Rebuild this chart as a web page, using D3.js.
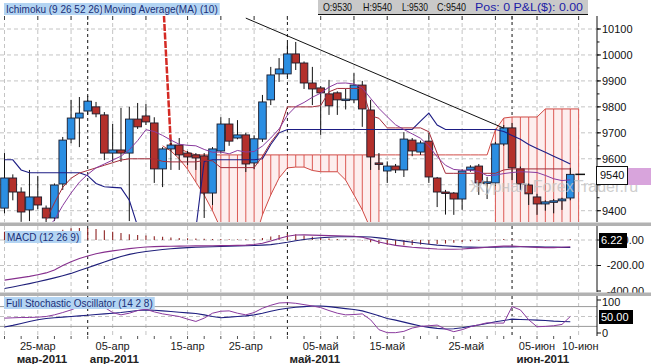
<!DOCTYPE html>
<html>
<head>
<meta charset="utf-8">
<script src="https://cdn.jsdelivr.net/npm/d3@7"></script>
<style>
  body { margin: 0; background: #fff; }
  svg { display: block; font-family: Arial, "Liberation Sans", sans-serif; }
</style>
</head>
<body>
<svg id="chart" width="651" height="364"></svg>
<script>
// ---- data (one candle per index) ----
const opens  = [9410,9526,9472,9403,9453,9410,9372,9503,9676,9757,9784,9800,9769,9622,9634,9622,9753,9765,9738,9561,9638,9653,9622,9615,9611,9468,9630,9734,9680,9692,9584,9676,9827,9927,9927,10004,9969,9892,9873,9850,9854,9827,9827,9884,9788,9584,9553,9572,9557,9672,9626,9668,9526,9472,9468,9445,9557,9572,9507,9507,9657,9719,9561,9499,9453,9426,9434,9438,9449];
const highs  = [9622,9540,9490,9557,9534,9420,9505,9684,9827,9838,9842,9819,9780,9734,9796,9800,9815,9811,9760,9645,9672,9680,9630,9622,9622,9645,9760,9757,9749,9700,9690,9846,9954,9988,10046,10050,9975,9954,9880,9904,9860,9870,9930,9900,9827,9622,9590,9580,9703,9680,9670,9700,9530,9480,9472,9560,9575,9580,9530,9665,9730,9738,9570,9505,9465,9440,9445,9450,9565];
const lows   = [9390,9440,9357,9360,9405,9355,9360,9480,9660,9645,9770,9760,9595,9588,9588,9360,9715,9730,9507,9491,9557,9557,9576,9557,9372,9422,9620,9650,9675,9549,9560,9665,9807,9896,9915,9942,9869,9807,9692,9769,9769,9790,9815,9723,9557,9557,9507,9545,9530,9610,9615,9507,9414,9385,9384,9403,9550,9461,9445,9495,9650,9518,9480,9422,9384,9400,9390,9403,9440];
const closes = [9526,9472,9395,9453,9422,9372,9499,9672,9757,9776,9822,9773,9622,9634,9622,9753,9723,9742,9561,9638,9653,9615,9607,9603,9468,9638,9734,9668,9692,9580,9677,9819,9923,9946,10004,9969,9892,9869,9854,9804,9827,9830,9884,9792,9607,9580,9572,9557,9676,9630,9661,9530,9472,9468,9445,9553,9568,9507,9511,9657,9719,9565,9503,9465,9426,9434,9438,9445,9540];

// Ichimoku (9 26 52 26) and MA(10)
const tenkan = [null,null,null,null,null,9364,9430,9490,9525,9545,9555,9565,9575,9585,9595,9600,9600,9600,9600,9590,9588,9588,9588,9588,9594,9592,9566,9566,9566,9566,9566,9609,9663,9705,9800,9800,9800,9800,9805,9858,9871,9871,9871,9871,9766,9756,9719,9719,9719,9719,9719,9704,9621,9544,9544,9544,9544,9544,9544,9544,9557,9561,9561,9561,9561,9561,9561,9561,9561];
const kijun  = [9596,9596,9557,9546,9546,9546,9546,9546,9546,9546,9535,9505,9492,9490,9488,9440,9340,9250,9250,9250,9250,9250,9250,9330,9590,9596,9596,9596,9596,9596,9596,9600,9655,9700,9713,9713,9713,9713,9713,9713,9713,9713,9713,9713,9713,9713,9713,9713,9713,9713,9745,9776,9730,9713,9713,9713,9713,9713,9713,9713,9705,9690,9675,9655,9640,9625,9610,9595,9580];
const ma10   = [null,null,null,null,null,9330,9364,9420,9468,9510,9540,9565,9580,9595,9610,9635,9670,9712,9705,9690,9672,9656,9652,9650,9636,9625,9626,9619,9632,9626,9628,9649,9680,9715,9768,9801,9817,9837,9853,9876,9891,9892,9888,9873,9833,9794,9762,9731,9713,9696,9679,9649,9608,9575,9559,9556,9556,9551,9535,9537,9543,9547,9550,9549,9547,9536,9523,9516,9519];
const spanA  = [null,null,null,null,null,null,null,null,null,null,null,null,null,null,null,null,null,null,null,
  9650,9630,9600,9560,9510,9460,9400,9330,9250,9200,9200,9280,9384,9461,9526,9565,9568,9568,9555,9550,9550,9550,9518,9461,9403,9330,
  9250,null,null,null,null,null,null,null,null,null,null,null,null,null,
  9200,9200,9200,9200,9200,9200,9200,9200,9200,9200,9200];
const spanB  = [null,null,null,null,null,null,null,null,null,null,null,null,null,null,null,null,null,null,null,null,
  9650,9640,9625,9615,9615,9615,9615,9615,9615,9615,9615,9615,9615,9615,9615,9615,9615,9615,9615,9615,9615,9615,9615,9615,9615,9615,9615,9615,9615,9615,9615,9615,9615,9615,9615,9615,9615,9615,9615,
  9711,9757,9761,9761,9761,9761,9792,9792,9792,9792,9792];
const spanBEntry = [[19, 10250], [20, 9650]];
const trendLine  = [[29, 10142], [60, 9718]];

// MACD (12 26 9)
const macd     = [-315,-305,-295,-285,-272,-258,-235,-200,-170,-145,-125,-108,-95,-85,-76,-68,-61,-55,-52,-50,-49,-48,-47,-46,-46,-45,-44,-43,-42,-40,-35,-25,-8,12,30,39,40,38,36,34,33,31,30,22,5,-15,-30,-42,-50,-57,-62,-67,-71,-73,-72,-70,-66,-62,-57,-52,-48,-48,-51,-55,-58,-60,-60,-57,-53];
const signal   = [-380,-368,-355,-342,-328,-313,-297,-280,-262,-240,-218,-195,-172,-150,-130,-113,-100,-90,-82,-75,-69,-64,-60,-57,-55,-53,-51,-49,-47,-45,-43,-40,-36,-28,-18,-6,4,12,18,22,25,26,27,26,23,17,9,0,-9,-18,-26,-33,-40,-45,-50,-54,-56,-57,-57,-56,-55,-54,-53,-53,-54,-55,-56,-58,-59];
const macdHist = [65,63,60,57,56,55,62,80,92,95,93,87,77,65,54,45,39,35,30,25,20,16,13,11,9,8,7,6,5,5,8,15,28,40,48,45,36,26,18,12,8,5,3,-4,-18,-32,-39,-42,-41,-39,-36,-34,-31,-28,-22,-16,-10,-5,0,4,7,6,2,-2,-4,-5,-4,1,6.22];

// Full Stochastic (14 2 8)
const stochK = [45,46,47,47,48,50,55,62,70,80,88,90,78,62,55,60,68,72,64,58,54,50,42,35,45,60,66,67,60,55,62,75,84,91,92,90,86,82,77,68,60,55,56,58,40,10,1,1,5,15,20,22,24,12,4,10,19,25,31,30,30,80,70,40,19,20,22,26,50];
const stochD = [18,23,29,35,40,44,46,48,50,52,54,56,58,60,62,65,68,70,69,67,65,63,61,59,55,50,46,48,50,52,55,60,66,71,75,78,80,82,82,80,77,74,71,67,60,52,44,39,33,27,21,17,14,12,13,16,20,24,29,34,38,42,41,40,39,38,36,35,34];

// axes / labels
const priceGrid   = [9400,9500,9600,9700,9800,9900,10000,10100];
const priceLabels = [9400,9600,9700,9800,9900,10000,10100];
const gridIdx  = [0,4,8,13,17,22,26,30,38,42,46,51,55,59,64,69];
const monthIdx = [10,34,61];
const dayTicks = [["25-мар",4],["05-апр",13],["15-апр",22],["25-апр",29],["05-май",38],["15-май",46],["25-май",55.5],["05-июн",64],["10-июн",69.2]];
const monthTicks = [["мар-2011",4.5],["апр-2011",13.2],["май-2011",37.3],["июн-2011",64.7]];
const headerBar = ["O:9530", "H:9540", "L:9530", "C:9540"];

// ---- layout ----
const svg = d3.select("#chart");
const plotRight = 597;
const mainTop = 16, mainBottom = 222;
const macdTop = 226, macdBottom = 292;
const stochTop = 296, stochBottom = 336;

const xScale = d3.scaleLinear().domain([0, 68]).range([4.5, 570.3]);
const yPrice = d3.scaleLinear().domain([9400, 10100]).range([210.7, 29]);
const yMacd  = d3.scaleLinear().domain([-400, 0]).range([291, 240]);
const yStoch = d3.scaleLinear().domain([0, 100]).range([333, 300]);

const defs = svg.append("defs");
function addClip(id, top, bottom) {
    defs.append("clipPath").attr("id", id).append("rect")
        .attr("x", 0).attr("y", top).attr("width", plotRight).attr("height", bottom - top);
}
addClip("clip-main", mainTop, mainBottom);
addClip("clip-macd", macdTop, macdBottom);
addClip("clip-stoch", stochTop, stochBottom);

const gMain  = svg.append("g").attr("clip-path", "url(#clip-main)");
const gMacd  = svg.append("g").attr("clip-path", "url(#clip-macd)");
const gStoch = svg.append("g").attr("clip-path", "url(#clip-stoch)");

// vertical grid in every panel
[[gMain, mainTop, mainBottom], [gMacd, macdTop, macdBottom], [gStoch, stochTop, stochBottom]].forEach(([g, t, b]) => {
    g.selectAll(".vgrid").data(gridIdx).enter().append("line")
        .attr("x1", d => xScale(d)).attr("x2", d => xScale(d))
        .attr("y1", t).attr("y2", b)
        .attr("stroke", "#c4c4c4").attr("stroke-dasharray", "4,3");
    g.selectAll(".mline").data(monthIdx).enter().append("line")
        .attr("x1", d => xScale(d)).attr("x2", d => xScale(d))
        .attr("y1", t).attr("y2", b)
        .attr("stroke", "#111").attr("stroke-dasharray", "3,3");
});

// horizontal grid, main
gMain.selectAll(".hgrid").data(priceGrid).enter().append("line")
    .attr("x1", 0).attr("x2", plotRight)
    .attr("y1", d => yPrice(d)).attr("y2", d => yPrice(d))
    .attr("stroke", "#c4c4c4").attr("stroke-dasharray", "4,3");

// ---- cloud ----
const idx70 = d3.range(spanA.length);
const cloudIdx = idx70.filter(i => spanA[i] != null && spanB[i] != null);
gMain.append("path")
    .datum(idx70)
    .attr("fill", "#fdeeee")
    .attr("d", d3.area()
        .defined(i => spanA[i] != null && spanB[i] != null)
        .x(i => xScale(i)).y0(i => yPrice(spanA[i])).y1(i => yPrice(spanB[i])));
gMain.selectAll(".hatch").data(cloudIdx).enter().append("line")
    .attr("x1", i => xScale(i)).attr("x2", i => xScale(i))
    .attr("y1", i => yPrice(spanA[i])).attr("y2", i => yPrice(spanB[i]))
    .attr("stroke", "#dc5a55").attr("stroke-width", 1);

const seriesLine = (arr, yS) => d3.line()
    .defined(i => arr[i] != null)
    .x(i => xScale(i)).y(i => yS(arr[i]));

gMain.append("path").datum(idx70).attr("fill", "none")
    .attr("stroke", "#d04a45").attr("stroke-width", 1)
    .attr("d", seriesLine(spanA, yPrice));
gMain.append("path").datum(idx70).attr("fill", "none")
    .attr("stroke", "#d04a45").attr("stroke-width", 1)
    .attr("d", seriesLine(spanB, yPrice));
gMain.append("path").datum(spanBEntry).attr("fill", "none")
    .attr("stroke", "#d42a24").attr("stroke-width", 2.5).attr("stroke-dasharray", "7,1.5")
    .attr("d", d3.line().x(d => xScale(d[0])).y(d => yPrice(d[1])));

// ---- candles ----
const candleIdx = d3.range(opens.length);
gMain.selectAll(".wick").data(candleIdx).enter().append("line")
    .attr("x1", i => xScale(i)).attr("x2", i => xScale(i))
    .attr("y1", i => yPrice(highs[i])).attr("y2", i => yPrice(lows[i]))
    .attr("stroke", "#111").attr("stroke-width", 1);
gMain.selectAll(".body").data(candleIdx).enter().append("rect")
    .attr("x", i => xScale(i) - 3.8)
    .attr("width", 7.6)
    .attr("y", i => yPrice(Math.max(opens[i], closes[i])))
    .attr("height", i => Math.max(1.5, Math.abs(yPrice(opens[i]) - yPrice(closes[i]))))
    .attr("fill", i => closes[i] >= opens[i] ? "#2b8ee2" : "#b3302b")
    .attr("stroke", "#1b1b2b").attr("stroke-width", 0.9);

// ---- indicator lines ----
gMain.append("path").datum(candleIdx).attr("fill", "none")
    .attr("stroke", "#1d1d84").attr("stroke-width", 1.1)
    .attr("d", seriesLine(kijun, yPrice));
gMain.append("path").datum(candleIdx).attr("fill", "none")
    .attr("stroke", "#a32c3a").attr("stroke-width", 1)
    .attr("d", seriesLine(tenkan, yPrice));
gMain.append("path").datum(candleIdx).attr("fill", "none")
    .attr("stroke", "#8a3a9e").attr("stroke-width", 1)
    .attr("d", seriesLine(ma10, yPrice));

// trend line
gMain.append("line")
    .attr("x1", xScale(trendLine[0][0])).attr("y1", yPrice(trendLine[0][1]))
    .attr("x2", xScale(trendLine[1][0])).attr("y2", yPrice(trendLine[1][1]))
    .attr("stroke", "#111").attr("stroke-width", 1);

// last close tick
const lastI = closes.length - 1;
svg.append("line")
    .attr("x1", xScale(lastI) + 5).attr("x2", 585)
    .attr("y1", yPrice(closes[lastI])).attr("y2", yPrice(closes[lastI]))
    .attr("stroke", "#111").attr("stroke-width", 1.5);

// ---- MACD panel ----
gMacd.selectAll(".mh").data([0, -200]).enter().append("line")
    .attr("x1", 0).attr("x2", plotRight)
    .attr("y1", d => yMacd(d)).attr("y2", d => yMacd(d))
    .attr("stroke", "#c4c4c4").attr("stroke-dasharray", "4,3");
gMacd.selectAll(".hist").data(candleIdx).enter().append("line")
    .attr("x1", i => xScale(i)).attr("x2", i => xScale(i))
    .attr("y1", yMacd(0)).attr("y2", i => yMacd(macdHist[i]))
    .attr("stroke", "#8e2424").attr("stroke-width", 1.1);
gMacd.append("path").datum(candleIdx).attr("fill", "none")
    .attr("stroke", "#20207a").attr("stroke-width", 1.1)
    .attr("d", seriesLine(signal, yMacd));
gMacd.append("path").datum(candleIdx).attr("fill", "none")
    .attr("stroke", "#86308e").attr("stroke-width", 1.1)
    .attr("d", seriesLine(macd, yMacd));

// ---- Stochastic panel ----
gStoch.selectAll(".sh").data([80, 20]).enter().append("line")
    .attr("x1", 0).attr("x2", plotRight)
    .attr("y1", d => yStoch(d)).attr("y2", d => yStoch(d))
    .attr("stroke", "#9a9a9a");
gStoch.append("line")
    .attr("x1", 0).attr("x2", plotRight)
    .attr("y1", yStoch(50)).attr("y2", yStoch(50))
    .attr("stroke", "#c4c4c4").attr("stroke-dasharray", "4,3");
gStoch.append("path").datum(candleIdx).attr("fill", "none")
    .attr("stroke", "#1f1f80").attr("stroke-width", 1.1)
    .attr("d", seriesLine(stochD, yStoch));
gStoch.append("path").datum(candleIdx).attr("fill", "none")
    .attr("stroke", "#8a3a9e").attr("stroke-width", 1)
    .attr("d", seriesLine(stochK, yStoch));

// top ticks and bottom ticks
svg.selectAll(".ttick").data(gridIdx.concat(monthIdx)).enter().append("line")
    .attr("x1", d => xScale(d)).attr("x2", d => xScale(d))
    .attr("y1", mainTop).attr("y2", mainTop + 4)
    .attr("stroke", "#444");
svg.selectAll(".btick").data(d3.range(0, 70, 2)).enter().append("line")
    .attr("x1", d => xScale(d)).attr("x2", d => xScale(d))
    .attr("y1", stochBottom).attr("y2", stochBottom + 3)
    .attr("stroke", "#555");

// watermark
svg.append("text")
    .attr("x", 470).attr("y", 192)
    .attr("font-size", 16).attr("fill", "#c2c2c2").attr("opacity", 0.8)
    .text("Журнал ForexTrader.ru");

// ---- right axes ----
[[mainTop, mainBottom], [macdTop, macdBottom], [stochTop, stochBottom]].forEach(([t, b]) => {
    svg.append("line").attr("x1", plotRight).attr("x2", plotRight)
        .attr("y1", t).attr("y2", b).attr("stroke", "#111");
});
svg.selectAll(".pminor").data(d3.range(9400, 10101, 50)).enter().append("line")
    .attr("x1", plotRight).attr("x2", plotRight + 2.5)
    .attr("y1", d => yPrice(d)).attr("y2", d => yPrice(d))
    .attr("stroke", "#111");
svg.selectAll(".pmajor").data(priceGrid).enter().append("line")
    .attr("x1", plotRight).attr("x2", plotRight + 4)
    .attr("y1", d => yPrice(d)).attr("y2", d => yPrice(d))
    .attr("stroke", "#111");
svg.selectAll(".plabel").data(priceLabels).enter().append("text")
    .attr("x", 602).attr("y", d => yPrice(d)).attr("dy", "0.35em")
    .attr("font-size", 11).attr("fill", "#111")
    .text(d => d);

// pink MA marker and last price box
svg.append("rect").attr("x", 628).attr("y", 168).attr("width", 23).attr("height", 17)
    .attr("fill", "#d8a4dc");
svg.append("rect").attr("x", 596.5).attr("y", 166.5).attr("width", 31).attr("height", 18)
    .attr("fill", "#fff").attr("stroke", "#111");
svg.append("text").attr("x", 600).attr("y", 175.5).attr("dy", "0.35em")
    .attr("font-size", 11).attr("fill", "#111").text(closes[lastI]);

// MACD axis
[[0, "0.00"], [-200, "-200.00"], [-400, "-400.00"]].forEach(([v, s]) => {
    svg.append("line").attr("x1", plotRight).attr("x2", plotRight + 4)
        .attr("y1", yMacd(v)).attr("y2", yMacd(v)).attr("stroke", "#111");
    svg.append("text").attr("x", 644).attr("y", yMacd(v)).attr("dy", "0.35em")
        .attr("text-anchor", "end").attr("font-size", 11).attr("fill", "#111").text(s);
});
svg.append("rect").attr("x", 599).attr("y", 233).attr("width", 28).attr("height", 15).attr("fill", "#000");
svg.append("text").attr("x", 601).attr("y", 240.5).attr("dy", "0.35em")
    .attr("font-size", 11).attr("fill", "#fff").text(macdHist[lastI]);

// Stochastic axis
[[100, "100"], [0, "0"]].forEach(([v, s]) => {
    svg.append("line").attr("x1", plotRight).attr("x2", plotRight + 4)
        .attr("y1", yStoch(v)).attr("y2", yStoch(v)).attr("stroke", "#111");
    svg.append("text").attr("x", 602).attr("y", yStoch(v) + (v === 100 ? 2 : 0)).attr("dy", "0.35em")
        .attr("font-size", 11).attr("fill", "#111").text(s);
});
svg.append("rect").attr("x", 599).attr("y", 310).attr("width", 34).attr("height", 14).attr("fill", "#000");
svg.append("text").attr("x", 601).attr("y", 317).attr("dy", "0.35em")
    .attr("font-size", 11).attr("fill", "#fff").text(stochK[lastI].toFixed(2));

// ---- separators (drawn over the axis labels, as in the original) ----
[[222.5, 3.5], [292.5, 3.5]].forEach(([y, h]) => {
    svg.append("rect").attr("x", 0).attr("y", y).attr("width", 651).attr("height", h)
        .attr("fill", "#b2b2b2");
});

// ---- date axis ----
svg.selectAll(".dlabel").data(dayTicks).enter().append("text")
    .attr("x", d => xScale(d[1])).attr("y", 350)
    .attr("text-anchor", "middle").attr("font-size", 11).attr("fill", "#222")
    .text(d => d[0]);
svg.selectAll(".mlabel").data(monthTicks).enter().append("text")
    .attr("x", d => xScale(d[1])).attr("y", 362.5)
    .attr("text-anchor", "middle").attr("font-size", 11.5).attr("font-weight", "bold").attr("fill", "#222")
    .text(d => d[0]);

// ---- legend tags ----
function tag(x, y, text) {
    const g = svg.append("g");
    const t = g.append("text").attr("x", x + 2).attr("y", y).attr("dy", "0.35em")
        .attr("font-size", 10).attr("fill", "#1a2f78").text(text);
    const w = t.node().getComputedTextLength();
    g.insert("rect", "text").attr("x", x).attr("y", y - 6).attr("width", w + 4).attr("height", 12)
        .attr("fill", "#b3d4f2");
}
tag(4, 9, "Ichimoku (9 26 52 26)");
tag(102, 9, "Moving Average(MA) (10)");
tag(5, 237, "MACD (12 26 9)");
tag(4, 303, "Full Stochastic Oscillator (14 2 8)");

// ---- OHLC header ----
svg.append("rect").attr("x", 318).attr("y", 0).attr("width", 270).attr("height", 14).attr("fill", "#c9c9c9");
svg.append("line").attr("x1", 318).attr("x2", 588).attr("y1", 14.5).attr("y2", 14.5).attr("stroke", "#111");
const headerX = [323, 363, 402, 437];
const headerW = [29, 29, 26, 29];
headerBar.forEach((s, k) => {
    svg.append("text").attr("x", headerX[k]).attr("y", 7).attr("dy", "0.35em")
        .attr("font-size", 10.5).attr("fill", "#111")
        .attr("textLength", headerW[k]).attr("lengthAdjust", "spacingAndGlyphs").text(s);
});
svg.append("text").attr("x", 475).attr("y", 7).attr("dy", "0.35em")
    .attr("font-size", 10.5).attr("fill", "#1c1ca6")
    .attr("textLength", 108).attr("lengthAdjust", "spacingAndGlyphs").text("Pos: 0 P&L($): 0.00");
</script>
</body>
</html>
